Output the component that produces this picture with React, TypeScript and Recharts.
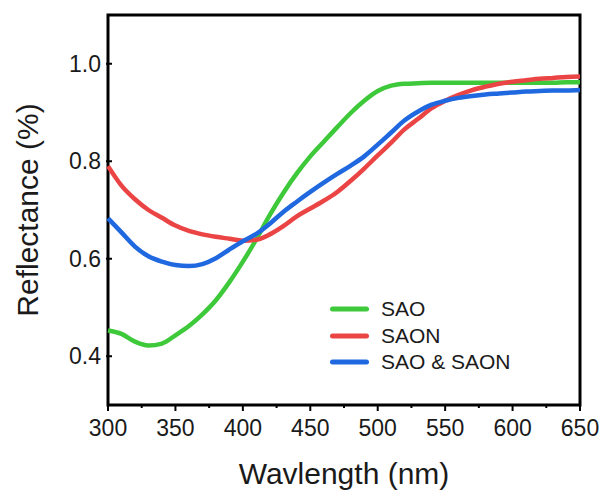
import React from 'react';
import { LineChart, Line, XAxis, YAxis, ReferenceArea, Legend } from 'recharts';

const wavelengths = [300, 310, 320, 330, 340, 350, 360, 370, 380, 390, 400, 410, 420, 430, 440, 450, 460, 470, 480, 490, 500, 510, 520, 530, 540, 550, 560, 570, 580, 590, 600, 610, 620, 630, 640, 650];
const sao = [0.453, 0.446, 0.430, 0.422, 0.426, 0.443, 0.462, 0.486, 0.515, 0.552, 0.594, 0.640, 0.690, 0.735, 0.775, 0.810, 0.840, 0.870, 0.899, 0.924, 0.944, 0.955, 0.959, 0.960, 0.961, 0.961, 0.961, 0.961, 0.961, 0.961, 0.961, 0.961, 0.961, 0.961, 0.962, 0.962];
const saon = [0.790, 0.750, 0.722, 0.700, 0.684, 0.668, 0.657, 0.650, 0.645, 0.641, 0.637, 0.639, 0.650, 0.667, 0.687, 0.703, 0.719, 0.737, 0.760, 0.785, 0.812, 0.838, 0.866, 0.887, 0.909, 0.924, 0.936, 0.946, 0.953, 0.959, 0.963, 0.966, 0.969, 0.971, 0.973, 0.974];
const saoSaon = [0.683, 0.654, 0.625, 0.605, 0.594, 0.587, 0.585, 0.589, 0.601, 0.619, 0.636, 0.651, 0.672, 0.696, 0.717, 0.737, 0.756, 0.774, 0.791, 0.810, 0.834, 0.859, 0.884, 0.902, 0.916, 0.924, 0.930, 0.934, 0.937, 0.939, 0.941, 0.943, 0.944, 0.945, 0.945, 0.946];

const seriesNames = ['SAO', 'SAON', 'SAO & SAON'];
const seriesColors = ['#3ec93a', '#ea4444', '#1f68e0'];

const xTicks = [300, 325, 350, 375, 400, 425, 450, 475, 500, 525, 550, 575, 600, 625, 650];
const yTicks = [0.4, 0.6, 0.8, 1.0];

const data = wavelengths.map((w, i) => ({ w, sao: sao[i], saon: saon[i], both: saoSaon[i] }));

const FONT = '"Liberation Sans", Arial, sans-serif';
const TXT = '#1a1a1a';

const XTick = (props: any) => {
  const { x, y, payload } = props;
  const major = payload.value % 50 === 0;
  return (
    <g>
      <line x1={x} x2={x} y1={y} y2={y + (major ? 6 : 3)} stroke="#000" strokeWidth={2} />
      {major && (
        <text x={x} y={y + 31} textAnchor="middle" fontSize={23} fontFamily={FONT} fill={TXT}>
          {payload.value}
        </text>
      )}
    </g>
  );
};

const YTick = (props: any) => {
  const { x, y, payload } = props;
  return (
    <g>
      <line x1={x - 2} x2={x + 4} y1={y} y2={y} stroke="#000" strokeWidth={2} />
      <text x={x - 7} y={y + 8.2} textAnchor="end" fontSize={23} fontFamily={FONT} fill={TXT}>
        {payload.value.toFixed(1)}
      </text>
    </g>
  );
};

const XTitle = (props: any) => {
  const vb = props.viewBox;
  return (
    <text x={vb.x + vb.width / 2} y={vb.y + 79} textAnchor="middle" fontSize={30} fontFamily={FONT} fill={TXT}>
      Wavlength (nm)
    </text>
  );
};

const YTitle = (props: any) => {
  const vb = props.viewBox;
  const cx = 38;
  const cy = vb.y + vb.height / 2;
  return (
    <text x={cx} y={cy} textAnchor="middle" fontSize={30} fontFamily={FONT} fill={TXT} transform={`rotate(-90 ${cx} ${cy})`}>
      Reflectance (%)
    </text>
  );
};

const LegendContent = (props: any) => {
  const items = [...(props.payload || [])].sort(
    (a: any, b: any) => seriesNames.indexOf(a.value) - seriesNames.indexOf(b.value)
  );
  return (
    <div style={{ fontFamily: FONT, fontSize: 21, color: TXT }}>
      {items.map((e: any) => (
        <div key={e.value} style={{ display: 'flex', alignItems: 'center', height: 26.4 }}>
          <svg width={51} height={10} style={{ display: 'block' }}>
            <line x1={2.5} x2={36.5} y1={5} y2={5} stroke={e.color} strokeWidth={5} strokeLinecap="round" />
          </svg>
          <span style={{ lineHeight: '26px', whiteSpace: 'nowrap' }}>{e.value}</span>
        </div>
      ))}
    </div>
  );
};

export default function App() {
  return (
    <div style={{ position: 'absolute', left: 0, top: 0, width: 604, height: 494, background: '#fff' }}>
      <LineChart width={604} height={494} data={data} margin={{ top: 15, right: 24, left: 0, bottom: 0 }}>
        <XAxis
          dataKey="w"
          type="number"
          domain={[300, 650]}
          ticks={xTicks}
          interval={0}
          height={89}
          tickSize={0}
          tickMargin={0}
          tickLine={false}
          axisLine={false}
          tick={<XTick />}
          label={{ content: <XTitle /> }}
        />
        <YAxis
          type="number"
          domain={[0.3, 1.1]}
          ticks={yTicks}
          interval={0}
          width={108}
          tickSize={0}
          tickMargin={0}
          tickLine={false}
          axisLine={false}
          tick={<YTick />}
          label={{ content: <YTitle /> }}
        />
        <ReferenceArea x1={300} x2={650} y1={0.3} y2={1.1} fill="none" stroke="#000" strokeWidth={3} ifOverflow="visible" />
        <Line type="monotone" dataKey="sao" name={seriesNames[0]} stroke={seriesColors[0]} strokeWidth={4.5} dot={false} isAnimationActive={false} />
        <Line type="monotone" dataKey="saon" name={seriesNames[1]} stroke={seriesColors[1]} strokeWidth={4.5} dot={false} isAnimationActive={false} />
        <Line type="monotone" dataKey="both" name={seriesNames[2]} stroke={seriesColors[2]} strokeWidth={4.5} dot={false} isAnimationActive={false} />
        <Legend
          layout="vertical"
          align="center"
          verticalAlign="middle"
          content={<LegendContent />}
          wrapperStyle={{ position: 'absolute', left: 330, top: 296, width: 220, height: 80 }}
        />
      </LineChart>
    </div>
  );
}
